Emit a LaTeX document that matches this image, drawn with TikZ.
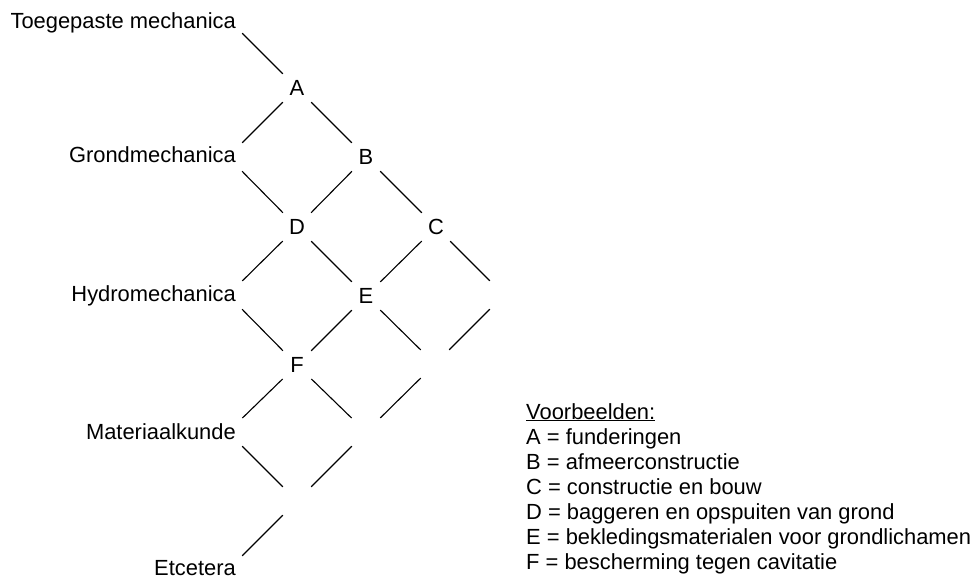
\documentclass[tikz,border=0pt]{standalone}
\usepackage{fontspec}
\setmainfont{Liberation Sans}
\begin{document}
\begin{tikzpicture}[x=1pt,y=-1pt,
  every node/.style={inner sep=0pt, font=\fontsize{21.9}{25}\selectfont},
  lnk/.style={line width=1.1pt, line cap=butt, shorten <=20pt, shorten >=20pt},
  subj/.style={anchor=base east},
  leg/.style={anchor=base west},
  letter/.style={anchor=center}]
\useasboundingbox (0,0) rectangle (974,578);
% lattice points on the subject column
\coordinate (L0) at (228,19);
\coordinate (L2) at (228,157);
\coordinate (L4) at (228,295);
\coordinate (L6) at (228,432);
\coordinate (L8) at (228,570);
% empty lattice points
\coordinate (R4) at (504,295);
\coordinate (G5) at (435,364);
\coordinate (G6) at (366,432);
\coordinate (G7) at (297,501);
% subject labels
\node[subj] (tm) at (236,29) {Toegepaste mechanica};
\node[subj] (gm) at (236,162) {Grondmechanica};
\node[subj] (hm) at (236,301) {Hydromechanica};
\node[subj] (mk) at (236,439) {Materiaalkunde};
\node[subj] (et) at (236,575) {Etcetera};
% letters
\node[letter] (A) at (297,88) {A};
\node[letter] (B) at (366,157) {B};
\node[letter] (C) at (436,227) {C};
\node[letter] (D) at (297,227) {D};
\node[letter] (E) at (366,296) {E};
\node[letter] (F) at (297,365) {F};
% connectors
\draw[lnk] (L0) -- (A.center);
\draw[lnk] (A.center) -- (L2);
\draw[lnk] (A.center) -- (B.center);
\draw[lnk] (L2) -- (D.center);
\draw[lnk] (B.center) -- (D.center);
\draw[lnk] (B.center) -- (C.center);
\draw[lnk] (D.center) -- (L4);
\draw[lnk] (D.center) -- (E.center);
\draw[lnk] (C.center) -- (E.center);
\draw[lnk] (C.center) -- (R4);
\draw[lnk] (L4) -- (F.center);
\draw[lnk] (E.center) -- (F.center);
\draw[lnk] (E.center) -- (G5);
\draw[lnk] (R4) -- (G5);
\draw[lnk] (F.center) -- (L6);
\draw[lnk] (F.center) -- (G6);
\draw[lnk] (G5) -- (G6);
\draw[lnk] (L6) -- (G7);
\draw[lnk] (G6) -- (G7);
\draw[lnk] (G7) -- (L8);
% legend
\node[leg] (v)  at (526,419) {\underline{Voorbeelden:}};
\node[leg] (la) at (526,444) {A = funderingen};
\node[leg] (lb) at (526,469) {B = afmeerconstructie};
\node[leg] (lc) at (526,494) {C = constructie en bouw};
\node[leg] (ld) at (526,519) {D = baggeren en opspuiten van grond};
\node[leg] (le) at (526,544) {E = bekledingsmaterialen voor grondlichamen};
\node[leg] (lf) at (526,569) {F = bescherming tegen cavitatie};
\end{tikzpicture}
\end{document}
